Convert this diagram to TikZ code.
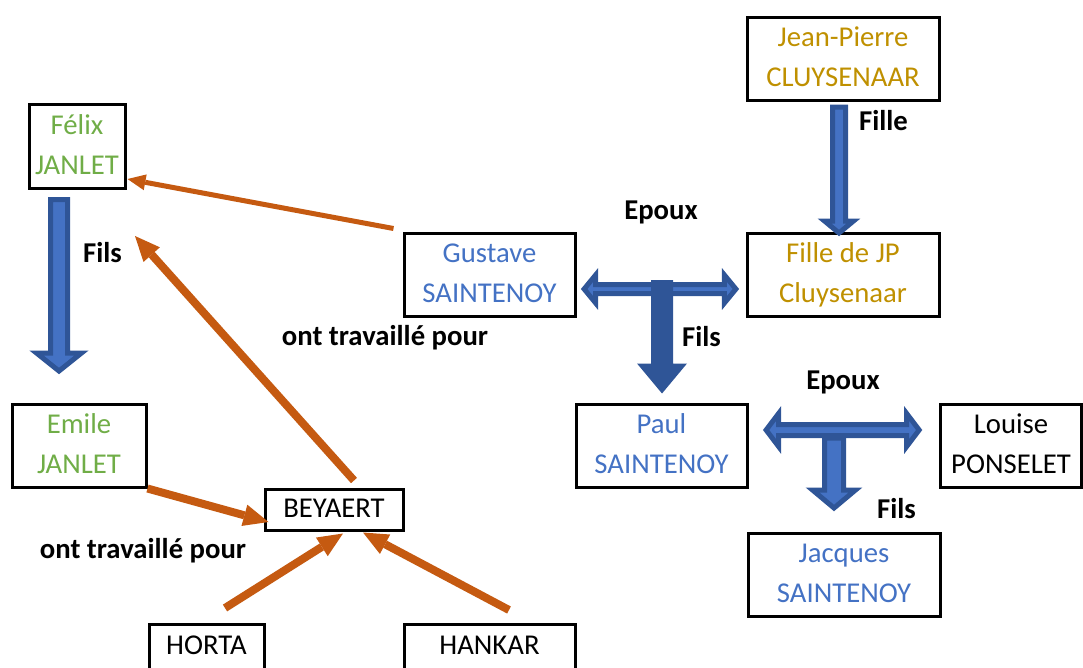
\documentclass[tikz,border=0pt]{standalone}
\usepackage{fontspec}
\setmainfont{Carlito}
\usetikzlibrary{arrows.meta,calc}
\definecolor{tgreen}{HTML}{70AD47}
\definecolor{tblue}{HTML}{4472C4}
\definecolor{tgold}{HTML}{BF9000}
\definecolor{rorange}{HTML}{C55A11}
\definecolor{bfill}{HTML}{4472C4}
\definecolor{bdark}{HTML}{2F5597}
% vertical block arrow: #1 start, #2 tip, #3 shaft half width, #4 head half width, #5 head length, #6 style
\newcommand\vblockarrow[6]{%
  \path[#6] ($(#1)+(-#3,0)$) -- ($(#1)+(#3,0)$) -- ($(#2)+(#3,-#5)$) -- ($(#2)+(#4,-#5)$) -- (#2)
    -- ($(#2)+(-#4,-#5)$) -- ($(#2)+(-#3,-#5)$) -- cycle;}
% horizontal double block arrow: #1 left tip, #2 right tip, #3 shaft half, #4 head half, #5 head length, #6 style
\newcommand\hdblockarrow[6]{%
  \path[#6] (#1) -- ($(#1)+(#5,-#4)$) -- ($(#1)+(#5,-#3)$) -- ($(#2)+(-#5,-#3)$) -- ($(#2)+(-#5,-#4)$)
    -- (#2) -- ($(#2)+(-#5,#4)$) -- ($(#2)+(-#5,#3)$) -- ($(#1)+(#5,#3)$) -- ($(#1)+(#5,#4)$) -- cycle;}
\begin{document}
\begin{tikzpicture}[x=1pt,y=-1pt,
  box/.style={draw=black, line width=3pt, inner sep=0pt, align=center,
    font=\fontsize{28.7}{40}\selectfont, minimum height=83pt},
  lbl/.style={font=\fontsize{28.7}{40}\selectfont\bfseries, anchor=base, inner sep=0pt},
  rel/.style={draw=rorange, line width=8pt, -{Triangle[length=25pt,width=22pt,line width=0pt]}},
  relthin/.style={draw=rorange, line width=5pt, -{Triangle[length=18pt,width=16pt,line width=0pt]}},
  blockarrow/.style={fill=bfill, draw=bdark, line width=5pt, line join=miter},
  solidarrow/.style={fill=bdark},
]
\useasboundingbox (0,0) rectangle (1083,667);

% boxes
\node[box, text=tgreen, minimum width=96pt, minimum height=84pt] (felix) at (77,146) {\strut Félix\\\strut JANLET};
\node[box, text=tgold, minimum width=192pt] (jp) at (843,58.5) {\strut Jean-Pierre\\\strut CLUYSENAAR};
\node[box, text=tblue, minimum width=171pt] (gustave) at (489.5,274.5) {\strut Gustave\\\strut SAINTENOY};
\node[box, text=tgold, minimum width=192pt] (fille) at (843,274.5) {\strut Fille de JP\\\strut Cluysenaar};
\node[box, text=tgreen, minimum width=134pt] (emile) at (79,445.5) {\strut Emile\\\strut JANLET};
\node[box, text=tblue, minimum width=171pt] (paul) at (661.5,445.5) {\strut Paul\\\strut SAINTENOY};
\node[box, text=black, minimum width=141.5pt] (louise) at (1011,445.5) {\strut Louise\\\strut PONSELET};
\node[box, text=tblue, minimum width=192pt] (jacques) at (844,574.5) {\strut Jacques\\\strut SAINTENOY};
\node[box, text=black, minimum width=138pt, minimum height=41pt] (beyaert) at (334,509.5) {\strut BEYAERT};
\node[box, text=black, minimum width=115pt, minimum height=84pt] (horta) at (206.5,666) {\strut HORTA\\\strut};
\node[box, text=black, minimum width=171pt, minimum height=84pt] (hankar) at (489.5,666) {\strut HANKAR\\\strut};

% blue block arrows
\coordinate (aS) at ($(felix.south)+(-18,10)$);
\coordinate (aT) at ($(aS |- emile.north)+(0,-31.5)$);
\vblockarrow{aS}{aT}{8.5}{22.5}{18}{blockarrow}

\coordinate (bS) at ($(jp.south)+(-4,5.5)$);
\coordinate (bT) at ($(bS |- fille.north)+(0,1.5)$);
\vblockarrow{bS}{bT}{6.5}{14.5}{12}{blockarrow}

\coordinate (cL) at ($(gustave.east)+(7.6,14.5)$);
\coordinate (cR) at ($(cL -| fille.west)+(-9.6,0)$);
\hdblockarrow{cL}{cR}{4.5}{14}{11.5}{blockarrow}
\coordinate (cT) at ($(paul.north)+(0.5,-9)$);
\coordinate (cS) at ($(cT |- cL)+(0,-9)$);
\vblockarrow{cS}{cT}{11}{25}{30}{solidarrow}

\coordinate (dL) at ($(paul.east)+(17.6,-15.5)$);
\coordinate (dR) at ($(dL -| louise.west)+(-19.6,0)$);
\hdblockarrow{dL}{dR}{5.5}{16.5}{12.5}{blockarrow}
\coordinate (dT) at ($(jacques.north)+(-10,-23.5)$);
\coordinate (dS) at ($(dT |- dL)+(0,8)$);
\vblockarrow{dS}{dT}{9.5}{21.5}{18}{blockarrow}

% orange arrows
\coordinate (o1s) at ($(gustave.north west)+(-9,-3)$);
\coordinate (o1t) at ($(felix.south east)+(1,-10.5)$);
\draw[relthin] (o1s) -- (o1t);
\coordinate (o2s) at ($(beyaert.north)+(20,-7)$);
\coordinate (o2t) at (135,236);
\draw[rel] (o2s) -- (o2t);
\coordinate (o3t) at ($(beyaert.west)+(5,12.5)$);
\draw[rel] (emile.south east) -- (o3t);
\coordinate (o4s) at (225,608);
\coordinate (o4t) at ($(beyaert.south)+(9,2)$);
\draw[rel] (o4s) -- (o4t);
\coordinate (o5s) at (509,610);
\coordinate (o5t) at ($(beyaert.south)+(29,1)$);
\draw[rel] (o5s) -- (o5t);

% labels
\node[lbl] (l1) at (102.5,262) {Fils};
\node[lbl] (l2) at (883.5,130) {Fille};
\node[lbl] (l3) at (661,219) {Epoux};
\node[lbl] (l4) at (385,345) {ont travaillé pour};
\node[lbl] (l5) at (701.5,346) {Fils};
\node[lbl] (l6) at (843,389) {Epoux};
\node[lbl] (l7) at (896.5,518) {Fils};
\node[lbl] (l8) at (143,558) {ont travaillé pour};
\end{tikzpicture}
\end{document}
